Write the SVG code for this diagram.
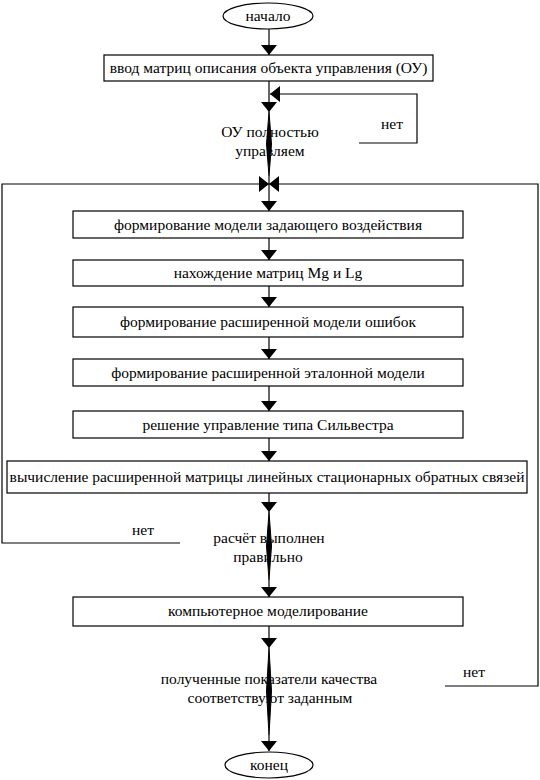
<svg xmlns="http://www.w3.org/2000/svg" width="540" height="780" viewBox="0 0 540 780">
<defs>
<marker id="ah" viewBox="0 0 10 16" refX="10" refY="8" markerWidth="10" markerHeight="16" markerUnits="userSpaceOnUse" orient="auto">
<path d="M0,0 L10,8 L0,16 Z" fill="#000"/>
</marker>
<style>
.box{fill:#fff;stroke:#000;stroke-width:1.2}
text{font-family:"Liberation Serif","Times New Roman",serif;font-size:15.5px;fill:#000;text-anchor:middle}
.c{fill:none;stroke:#000;stroke-width:1.2}
.d{fill:#000;stroke:#000;stroke-width:1}
</style>
</defs>
<rect width="540" height="780" fill="#fff"/>
<g id="connectors">
<line class="c" x1="269" y1="29" x2="269" y2="55" marker-end="url(#ah)"/>
<line class="c" x1="269" y1="81" x2="269" y2="112" marker-end="url(#ah)"/>
<polyline class="c" points="359,143 417,143 417,94 270,94" marker-end="url(#ah)"/>
<line class="c" x1="269" y1="176" x2="269" y2="211" marker-end="url(#ah)"/>
<polyline class="c" points="180,543 2,543 2,184 269,184" marker-end="url(#ah)"/>
<polyline class="c" points="445,686 538,686 538,184 269,184" marker-end="url(#ah)"/>
<line class="c" x1="269" y1="238" x2="269" y2="260" marker-end="url(#ah)"/>
<line class="c" x1="269" y1="286" x2="269" y2="307" marker-end="url(#ah)"/>
<line class="c" x1="269" y1="337" x2="269" y2="359" marker-end="url(#ah)"/>
<line class="c" x1="269" y1="386" x2="269" y2="411" marker-end="url(#ah)"/>
<line class="c" x1="269" y1="438" x2="269" y2="461" marker-end="url(#ah)"/>
<line class="c" x1="269" y1="493" x2="269" y2="512" marker-end="url(#ah)"/>
<line class="c" x1="269" y1="580" x2="269" y2="597" marker-end="url(#ah)"/>
<line class="c" x1="269" y1="626" x2="269" y2="648" marker-end="url(#ah)"/>
<line class="c" x1="269" y1="735" x2="269" y2="751" marker-end="url(#ah)"/>
</g>
<g id="start">
<ellipse class="box" cx="268" cy="16" rx="45" ry="13"/>
<text x="268" y="21">начало</text>
</g>
<g id="input">
<rect class="box" x="104" y="55" width="329" height="26"/>
<text x="268.5" y="73">ввод матриц описания объекта управления (ОУ)</text>
</g>
<g id="dec1">
<polygon class="d" points="269,112 271.5,144 269,176 266.5,144"/>
<text x="270" y="137">ОУ полностью</text>
<text x="270" y="156">управляем</text>
<text x="392" y="129">нет</text>
</g>
<g id="b2">
<rect class="box" x="73" y="211" width="390" height="27"/>
<text x="268" y="229.5">формирование модели задающего воздействия</text>
</g>
<g id="b3">
<rect class="box" x="73" y="260" width="390" height="26"/>
<text x="268" y="278">нахождение матриц Mg и Lg</text>
</g>
<g id="b4">
<rect class="box" x="73" y="307" width="390" height="30"/>
<text x="268" y="327">формирование расширенной модели ошибок</text>
</g>
<g id="b5">
<rect class="box" x="73" y="359" width="390" height="27"/>
<text x="268" y="377.5">формирование расширенной эталонной модели</text>
</g>
<g id="b6">
<rect class="box" x="73" y="411" width="390" height="27"/>
<text x="268" y="429.5">решение управление типа Сильвестра</text>
</g>
<g id="b7">
<rect class="box" x="7" y="461" width="520" height="32"/>
<text x="267" y="482">вычисление расширенной матрицы линейных стационарных обратных связей</text>
</g>
<g id="dec2">
<polygon class="d" points="269,512 271.5,546 269,580 266.5,546"/>
<text x="269" y="543">расчёт выполнен</text>
<text x="268" y="562">правильно</text>
<text x="143" y="535">нет</text>
</g>
<g id="b8">
<rect class="box" x="73" y="597" width="390" height="29"/>
<text x="268" y="616">компьютерное моделирование</text>
</g>
<g id="dec3">
<polygon class="d" points="269,648 271.5,691 269,735 266.5,691"/>
<text x="269" y="684">полученные показатели качества</text>
<text x="270" y="703">соответствуют заданным</text>
<text x="474" y="677">нет</text>
</g>
<g id="end">
<ellipse class="box" cx="269" cy="765" rx="44" ry="13"/>
<text x="269" y="769.5">конец</text>
</g>
</svg>
